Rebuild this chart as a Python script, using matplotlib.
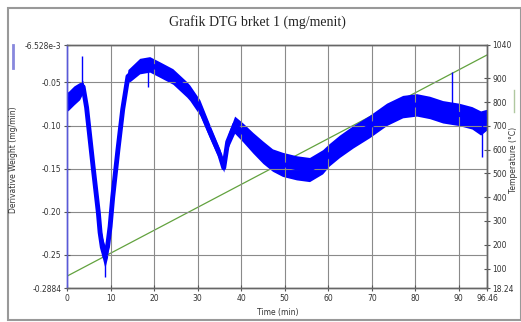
import matplotlib.pyplot as plt
from matplotlib.lines import Line2D
from matplotlib.patches import Rectangle

# DTG curve (centre of the noisy band)
time_min = [0.0, 0.2, 1.6, 2.9, 3.7, 4.5, 6.0, 7.2, 7.6, 8.1, 8.7, 9.3, 9.9,
            10.5, 11.7, 12.8, 14.0, 16.7, 19.0, 21.3, 24.3, 27.5, 28.2, 30.5,
            32.8, 35.1, 36.0, 36.9, 38.5, 40.4, 42.7, 45.0, 47.2, 49.5, 52.7,
            55.7, 58.7, 60.2, 62.6, 65.7, 69.5, 73.4, 77.1, 80.3, 83.3, 86.3,
            90.0, 93.0, 95.0, 96.46]
dtg = [-0.070, -0.072, -0.065, -0.060, -0.055, -0.079, -0.148, -0.201, -0.224,
       -0.241, -0.252, -0.241, -0.217, -0.183, -0.128, -0.081, -0.043, -0.031,
       -0.029, -0.035, -0.043, -0.058, -0.062, -0.079, -0.107, -0.134, -0.149,
       -0.119, -0.099, -0.108, -0.120, -0.131, -0.140, -0.145, -0.149, -0.151,
       -0.142, -0.134, -0.124, -0.113, -0.101, -0.087, -0.078, -0.076, -0.079,
       -0.084, -0.087, -0.091, -0.097, -0.093]
# half thickness of the noise band
noise = [0.011, 0.011, 0.011, 0.010, 0.007, 0.004, 0.003, 0.004, 0.009,
         0.012, 0.013, 0.012, 0.007, 0.003, 0.003, 0.005, 0.008, 0.009,
         0.009, 0.009, 0.009, 0.009, 0.009, 0.009, 0.008, 0.007, 0.005,
         0.008, 0.010, 0.011, 0.012, 0.013, 0.013, 0.014, 0.014, 0.014,
         0.014, 0.013, 0.013, 0.013, 0.013, 0.013, 0.013, 0.013, 0.013,
         0.013, 0.013, 0.013, 0.014, 0.012]

# single spikes sticking out of the band
spike_t = [3.4, 8.7, 18.6, 88.5, 95.2]
spike_lo = [-0.060, -0.276, -0.055, -0.085, -0.136]
spike_hi = [-0.019, -0.245, -0.030, -0.038, -0.095]

# furnace temperature
temp_t = [0.0, 96.46]
temp_c = [68.0, 998.0]

x_ticks = [0, 10, 20, 30, 40, 50, 60, 70, 80, 90, 96.46]
x_labels = ['0', '10', '20', '30', '40', '50', '60', '70', '80', '90', '96.46']
y_ticks = [-0.2884, -0.25, -0.20, -0.15, -0.10, -0.05, -0.006528]
y_labels = ['-0.2884', '-0.25', '-0.20', '-0.15', '-0.10', '-0.05', '-6.528e-3']
t_ticks = [18.24, 100, 200, 300, 400, 500, 600, 700, 800, 900, 1040]
t_labels = ['18.24', '100', '200', '300', '400', '500', '600', '700', '800',
            '900', '1040']

W, H = 521, 322
fig = plt.figure(figsize=(W / 100, H / 100), dpi=100)
ax = fig.add_axes([67 / W, 1 - 288 / H, 420 / W, 243 / H])
ax2 = ax.twinx()
ax.set_zorder(ax2.get_zorder() + 1)
ax.patch.set_visible(False)

blue = '#0000ff'
lower = [m - n for m, n in zip(dtg, noise)]
upper = [m + n for m, n in zip(dtg, noise)]
ax.fill_between(time_min, lower, upper, color=blue, lw=0)
ax.plot(time_min, dtg, color=blue, lw=3.5, solid_joinstyle='round')
ax.vlines(spike_t, spike_lo, spike_hi, color=blue, lw=1.0)

ax2.plot(temp_t, temp_c, color='#62a23e', lw=0.9)

ax.set_xlim(0, 96.46)
ax.set_ylim(-0.2884, -0.006528)
ax2.set_ylim(18.24, 1040)

tick_kw = dict(labelsize=5.5, labelcolor='#333333', color='#555555',
               direction='inout', length=4, width=0.8, pad=2)
ax.set_xticks(x_ticks, x_labels)
ax.set_yticks(y_ticks, y_labels)
ax2.set_yticks(t_ticks, t_labels)
ax.tick_params(**tick_kw)
ax2.tick_params(**tick_kw)

ax.grid(True, color='#8a8a8a', lw=0.8)

for a in (ax, ax2):
    for s in a.spines.values():
        s.set_color('#666666')
        s.set_linewidth(1.0)
ax.spines['left'].set_color('#5a5ad8')
ax2.spines['left'].set_color('#5a5ad8')

fig.text(0.495, 1 - 22 / H, 'Grafik DTG brket 1 (mg/menit)',
         family='Liberation Serif', fontsize=10, color='#222222',
         ha='center', va='center')
fig.text(278 / W, 1 - 313 / H, 'Time (min)', fontsize=5.5, color='#333333',
         ha='center', va='center')
fig.text(14 / W, 1 - 160 / H, 'Derivative Weight (mg/min)', fontsize=5.5,
         color='#333333', rotation=90, ha='center', va='center')
fig.text(514 / W, 1 - 160 / H, 'Temperature (\u00b0C)', fontsize=5.5,
         color='#333333', rotation=90, ha='center', va='center')

# small line samples next to the axis titles
fig.add_artist(Line2D([13 / W, 13 / W], [1 - 45 / H, 1 - 68 / H],
                      color='#8888dd', lw=2))
fig.add_artist(Line2D([514 / W, 514 / W], [1 - 90 / H, 1 - 112 / H],
                      color='#b0c8a0', lw=1))

# outer frame
fig.add_artist(Rectangle((8 / W, 2 / H), (W - 8) / W, (320 - 8) / H,
                         fill=False, edgecolor='#999999', lw=1.5))

fig.savefig('out.png', dpi=100)
